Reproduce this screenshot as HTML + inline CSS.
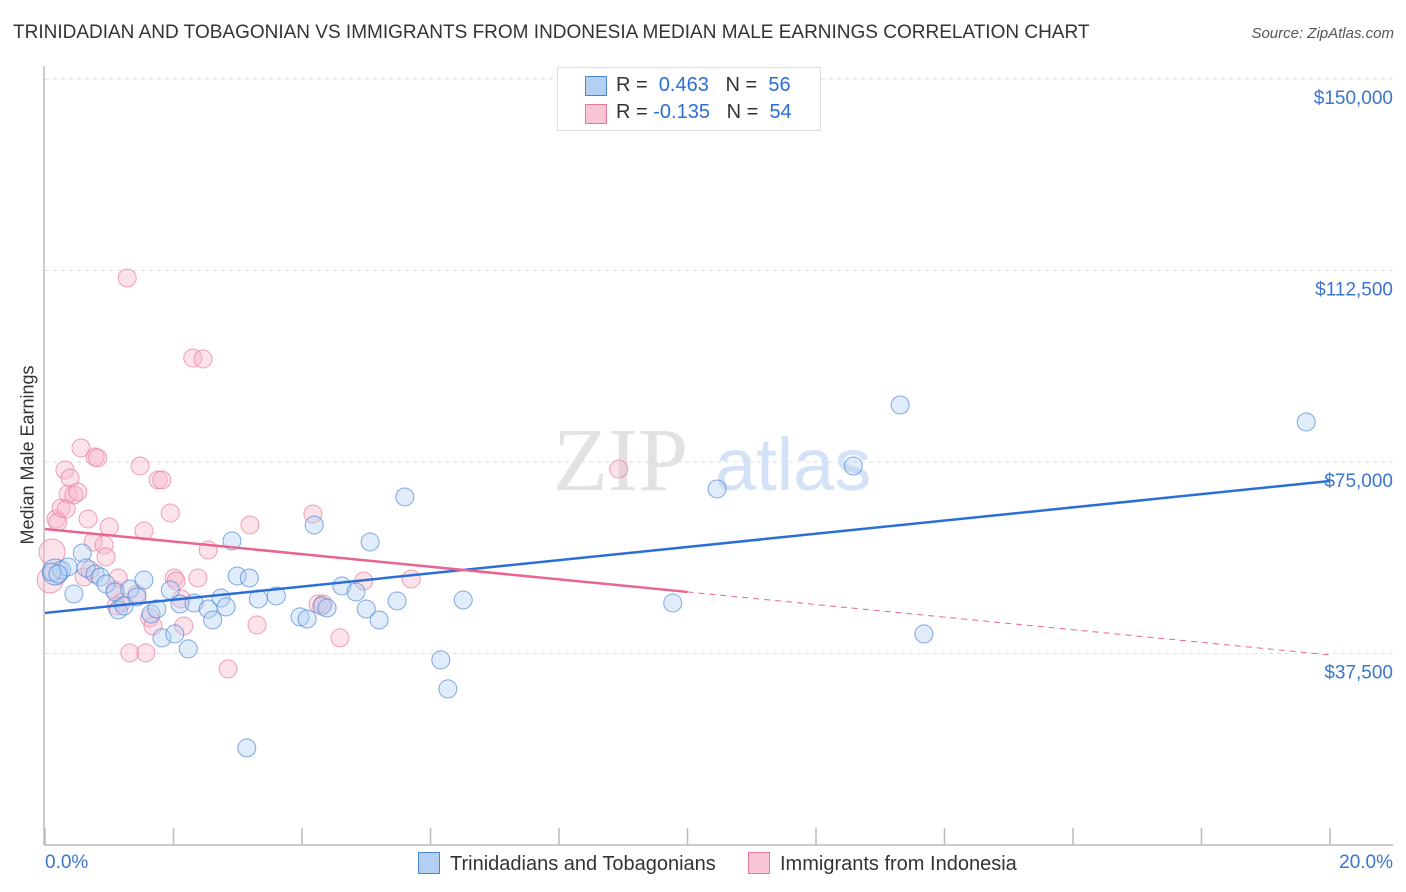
<!DOCTYPE html>
<html><head><meta charset="utf-8"><style>
body{margin:0;background:#fff;font-family:"Liberation Sans",sans-serif;}
#wrap{position:relative;width:1406px;height:892px;overflow:hidden}
.t{position:absolute;white-space:nowrap}
</style></head><body><div id="wrap">
<div class="t" style="left:13px;top:22px;font-size:19px;color:#333;letter-spacing:0px">TRINIDADIAN AND TOBAGONIAN VS IMMIGRANTS FROM INDONESIA MEDIAN MALE EARNINGS CORRELATION CHART</div>
<div class="t" style="right:12px;top:25px;font-size:15px;color:#555;font-style:italic">Source: ZipAtlas.com</div>
<svg id="svg" width="1406" height="892" style="position:absolute;left:0;top:0"></svg>
</div>
<script>
const blueX=[0.16,0.26,0.36,0.45,0.58,0.64,0.78,0.86,0.95,1.09,1.14,1.23,1.32,1.43,1.54,1.65,1.74,1.82,1.95,2.02,2.10,2.23,2.32,2.54,2.61,2.74,2.82,2.91,2.99,3.18,3.14,3.32,3.60,3.97,4.08,4.19,4.31,4.39,4.62,4.84,5.00,5.06,5.20,5.48,5.60,6.16,6.27,6.51,9.77,10.46,12.58,13.31,13.68,19.63,0.11,0.20];
const blueY=[53471,53862,54450,49163,57191,54254,53079,52492,51121,49555,46030,46813,50142,48576,51904,45247,46226,40548,49946,41331,47205,38394,47401,46226,44072,48380,46618,59540,52687,52296,19010,48184,48771,44660,44268,62673,46813,46422,50729,49555,46226,59345,44072,47792,68156,36240,30562,47988,47401,69722,74225,86169,41331,82841,53471,53079];
const pinkX=[0.08,0.11,0.17,0.20,0.25,0.31,0.36,0.39,0.45,0.51,0.56,0.61,0.67,0.75,0.78,0.82,0.92,0.95,1.00,1.09,1.14,1.20,1.28,1.32,1.43,1.48,1.54,1.57,1.63,1.68,1.76,1.82,1.95,2.01,2.04,2.12,2.16,2.30,2.38,2.46,2.54,2.85,3.19,3.30,4.17,4.25,4.33,4.59,4.96,5.70,8.93,1.11,0.33,0.70];
const pinkY=[51904,57387,63848,63261,66002,73442,68743,71876,68547,69135,77750,52492,63848,59345,75988,75792,58757,56408,62282,49946,52296,47597,111036,37611,49163,74225,61498,37611,44464,42897,71484,71484,65023,52296,51708,48184,42897,95372,52296,95176,57778,34478,62673,43093,64827,47205,47205,40548,51708,52100,73638,46813,65806,53862];
const yTicks=[37500,75000,112500,150000];
const yTickLabels=["$37,500","$75,000","$112,500","$150,000"];
const blueTrend=[45443,71288];
const pinkTrend=[61890,37221];
const NS="http://www.w3.org/2000/svg";
const svg=document.getElementById('svg');
const X=p=>45+p*64.25;
const Y=v=>79+(150000-v)/37500*191.5;
function mk(t,a){const e=document.createElementNS(NS,t);for(const k in a)e.setAttribute(k,a[k]);svg.appendChild(e);return e;}
yTicks.forEach((v,i)=>{
 const g=mk('line',{x1:45,x2:1393,y1:Y(v),y2:Y(v),stroke:'#ddd','stroke-dasharray':'4,4'});
 
 
 const t=mk('text',{x:1393,y:Y(v)+25,'text-anchor':'end','font-size':19,fill:'#3a75d0','font-family':'Liberation Sans, sans-serif'});
 t.textContent=yTickLabels[i];
 
 
});
let ax=mk('line',{x1:44,x2:44,y1:66,y2:845,stroke:'#bbb','stroke-width':1.5});


let bx=mk('line',{x1:44,x2:1393,y1:845,y2:845,stroke:'#bbb','stroke-width':1.5});


for(let i=0;i<=10;i++){const tk=mk('line',{x1:X(i*2),x2:X(i*2),y1:828,y2:845,stroke:'#bbb','stroke-width':1.5});
 
 }
let wm=mk('text',{x:553,y:490,'font-size':90,fill:'#e2e2e2','font-family':'Liberation Serif, serif'});wm.textContent='ZIP';


let wm2=mk('text',{x:715,y:490,'font-size':74,fill:'#d3e2f6','font-family':'Liberation Sans, sans-serif'});wm2.textContent='atlas';


function pts(xs,ys,fill,stroke,name){xs.forEach((x,i)=>{const big=x<0.2&&i<2;const c=mk('circle',{cx:X(x),cy:Y(ys[i]),r:big?13:9,fill:fill,'fill-opacity':0.4,stroke:stroke,'stroke-opacity':0.7,'stroke-width':1});
 
 });}
pts(pinkX,pinkY,'#f7b7c9','#e8799b','pink-point');
pts(blueX,blueY,'#b3cff2','#4a86d8','blue-point');
let bl=mk('line',{x1:X(0),y1:Y(blueTrend[0]),x2:X(20),y2:Y(blueTrend[1]),stroke:'#2b6fd6','stroke-width':2.5});


const pm=p=>pinkTrend[0]+(pinkTrend[1]-pinkTrend[0])*p/20;
let pl=mk('line',{x1:X(0),y1:Y(pm(0)),x2:X(10),y2:Y(pm(10)),stroke:'#e8658f','stroke-width':2.5});


let pd=mk('line',{x1:X(10),y1:Y(pm(10)),x2:X(20),y2:Y(pm(20)),stroke:'#e8658f','stroke-width':1,'stroke-dasharray':'6,5'});


</script>
<div class="t" style="left:28px;top:455px;transform:translate(-50%,-50%) rotate(-90deg);font-size:18px;color:#333">Median Male Earnings</div>
<div class="t" style="left:45px;top:852px;font-size:19px;color:#3a75d0">0.0%</div>
<div class="t" style="right:13px;top:852px;font-size:19px;color:#3a75d0">20.0%</div>
<div style="position:absolute;left:557px;top:67px;width:262px;height:62px;border:1px solid #ddd;background:#fff;font-size:20px;color:#333">
 <div class="t" style="left:27px;top:8px;width:20px;height:18px;background:#b3cff2;border:1px solid #4a86d8"></div>
 <div class="t" style="left:58px;top:6px">R = &nbsp;<span style="color:#2b6fd6">0.463</span> &nbsp;&nbsp;N = &nbsp;<span style="color:#2b6fd6">56</span></div>
 <div class="t" style="left:27px;top:36px;width:20px;height:18px;background:#f7c5d4;border:1px solid #e8799b"></div>
 <div class="t" style="left:58px;top:33px">R = <span style="color:#2b6fd6">-0.135</span> &nbsp;&nbsp;N = &nbsp;<span style="color:#2b6fd6">54</span></div>
</div>
<div class="t" style="left:418px;top:852px;font-size:20px;color:#333"><span style="display:inline-block;width:20px;height:20px;background:#b3cff2;border:1px solid #4a86d8;vertical-align:-4px;margin-right:10px"></span>Trinidadians and Tobagonians</div>
<div class="t" style="left:748px;top:852px;font-size:20px;color:#333"><span style="display:inline-block;width:20px;height:20px;background:#f7c5d4;border:1px solid #e8799b;vertical-align:-4px;margin-right:10px"></span>Immigrants from Indonesia</div>
</body></html>
